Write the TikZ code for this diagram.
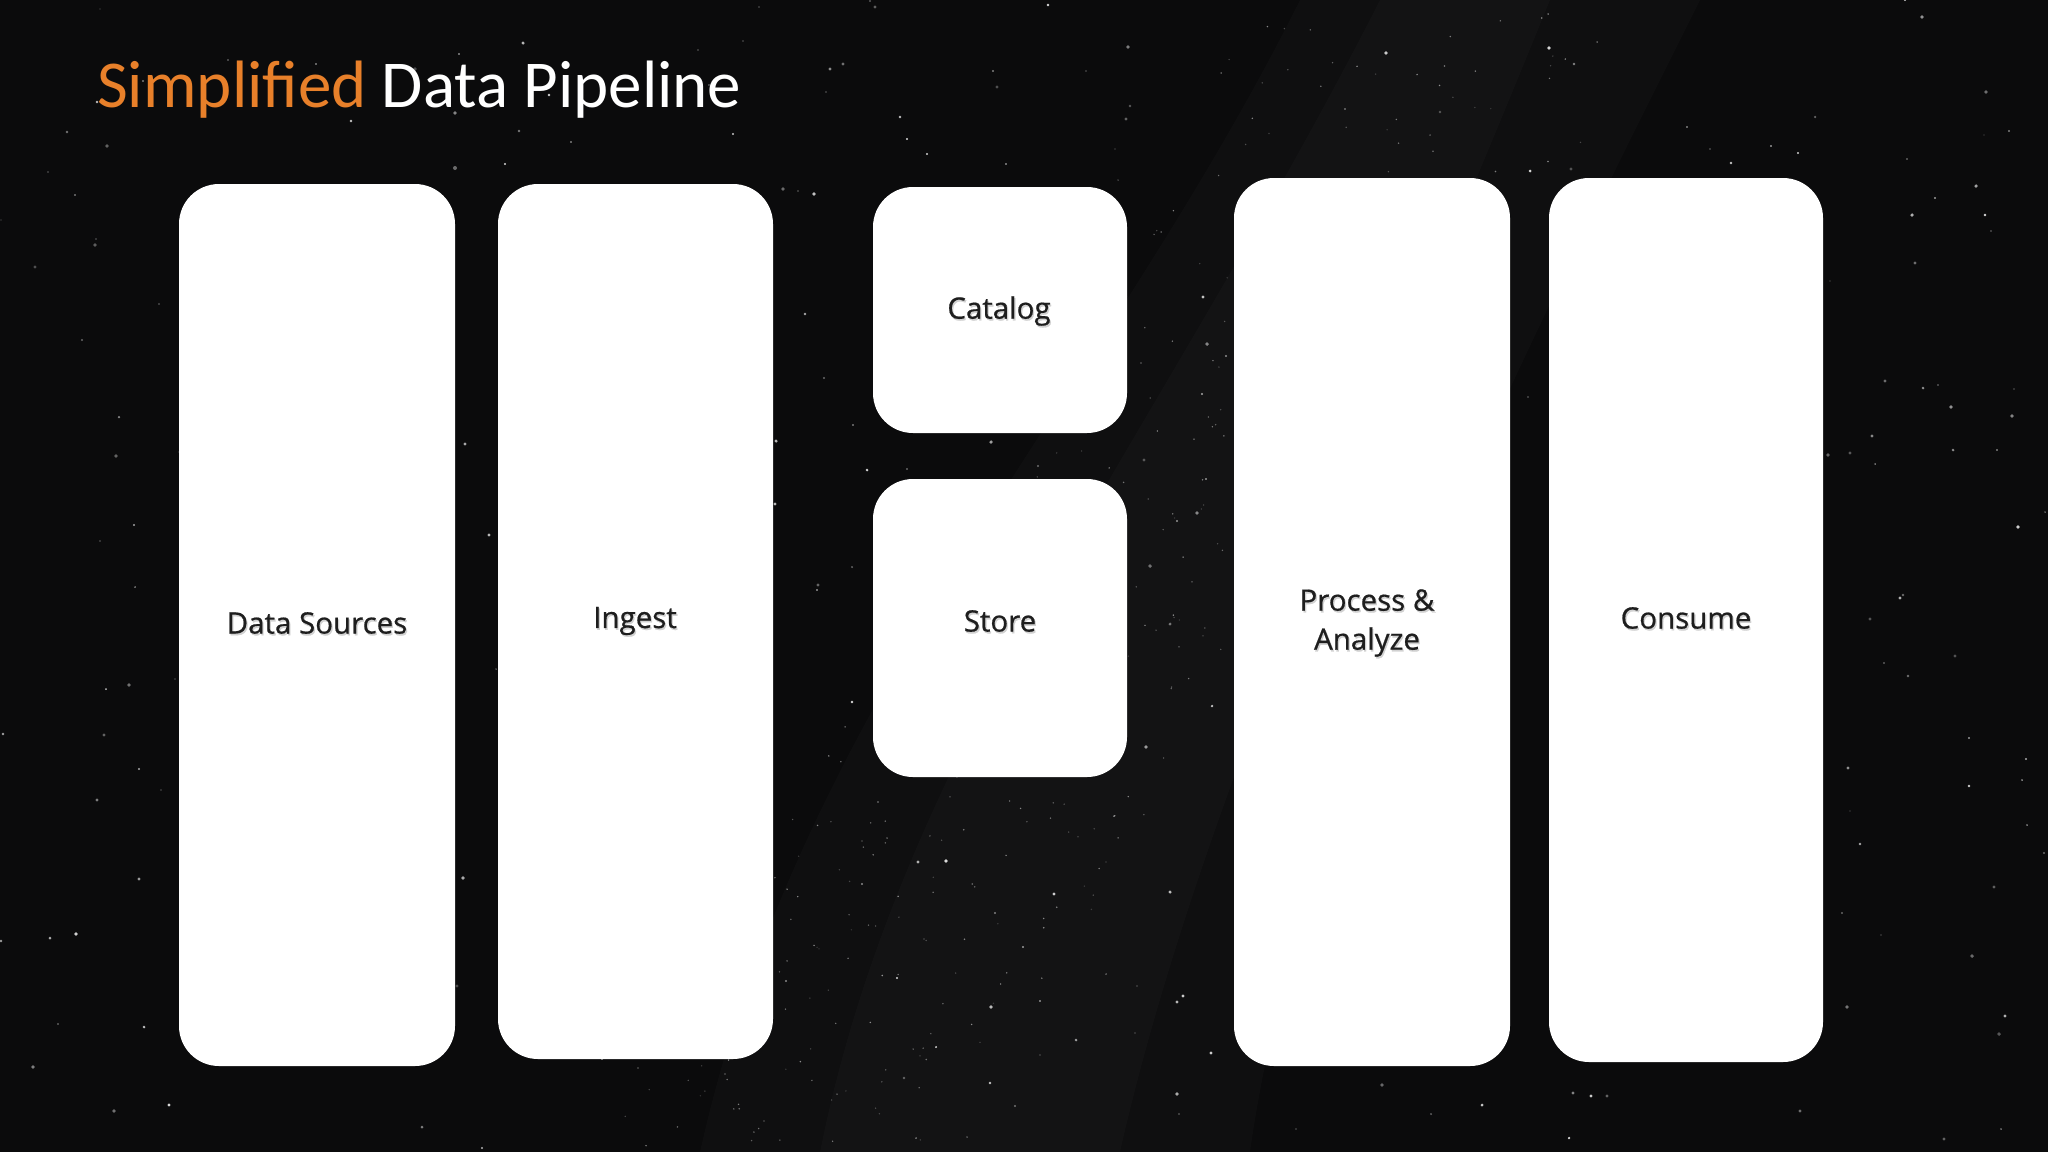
\documentclass[tikz,border=0pt]{standalone}
\usepackage{fontspec}
\setmainfont{Carlito}
\newfontfamily\labelfont[FakeBold=0.6]{Open Sans}
\definecolor{bg}{HTML}{0B0B0C}
\definecolor{titleorange}{HTML}{E8802A}
\definecolor{labelgray}{HTML}{1E1E1E}
\begin{document}
\begin{tikzpicture}[x=1pt,y=-1pt,
  card/.style={fill=white,rounded corners=40pt,draw=none},
  cardlabel/.style={font=\labelfont\fontsize{29.5}{39}\selectfont,text=labelgray,align=center},
  cardshadow/.style={font=\labelfont\fontsize{29.5}{39}\selectfont,text=black!18,align=center}]
\fill[bg] (0,0) rectangle (2048,1152);
\useasboundingbox (0,0) rectangle (2048,1152);
% milky way haze
\fill[white,opacity=0.018] (700,1152) .. controls (800,700) and (1100,400) .. (1300,0) -- (1700,0) .. controls (1500,400) and (1300,800) .. (1250,1152) -- cycle;
\fill[white,opacity=0.018] (820,1152) .. controls (900,750) and (1150,450) .. (1380,0) -- (1550,0) .. controls (1380,420) and (1200,800) .. (1120,1152) -- cycle;
% stars
\pgfmathsetseed{42}
\foreach \i in {1,...,450}{
  \pgfmathsetmacro{\sx}{random(0,2048)}
  \pgfmathsetmacro{\sy}{random(0,1152)}
  \pgfmathsetmacro{\sr}{0.6+1.4*rnd}
  \pgfmathsetmacro{\so}{0.25+0.6*rnd}
  \fill[white,opacity=\so] (\sx,\sy) circle[radius=\sr];
}
% denser faint stars in the milky way band
\foreach \i in {1,...,350}{
  \pgfmathsetmacro{\t}{rnd}
  \pgfmathsetmacro{\sx}{760+700*\t+rand*180}
  \pgfmathsetmacro{\sy}{1152-1152*\t+rand*60}
  \pgfmathsetmacro{\so}{0.15+0.4*rnd}
  \fill[white,opacity=\so] (\sx,\sy) circle[radius=0.8];
}
% title
\node[anchor=base west,inner sep=0pt,font=\fontsize{67}{72}\selectfont] (title) at (97,107)
  {\textcolor{titleorange}{Simplified} \textcolor{white}{Data Pipeline}};
% cards
\node[card,minimum width=276pt,minimum height=882pt] (sources) at (317,625) {};
\node[card,minimum width=275pt,minimum height=875pt] (ingest) at (635.5,621.5) {};
\node[card,minimum width=254pt,minimum height=246pt] (catalog) at (1000,310) {};
\node[card,minimum width=254pt,minimum height=298pt] (store) at (1000,628) {};
\node[card,minimum width=276pt,minimum height=888pt] (process) at (1372,622) {};
\node[card,minimum width=274pt,minimum height=884pt] (consume) at (1686,620) {};
% label shadows
\foreach \p/\t in {{317,623}/{Data Sources},{635,621}/{Ingest},{999,311}/{Catalog},{1000,621}/{Store},{1367,623}/{Process \&\\Analyze},{1686,618}/{Consume}}{
  \node[cardshadow] at ([xshift=1.2pt,yshift=-1.8pt]\p) {\t};
}
\node[cardlabel] (sourcesl) at (317,623) {Data Sources};
\node[cardlabel] (ingestl) at (635,621) {Ingest};
\node[cardlabel] (catalogl) at (999,311) {Catalog};
\node[cardlabel] (storel) at (1000,621) {Store};
\node[cardlabel] (processl) at (1367,623) {Process \&\\Analyze};
\node[cardlabel] (consumel) at (1686,618) {Consume};
\end{tikzpicture}
\end{document}
